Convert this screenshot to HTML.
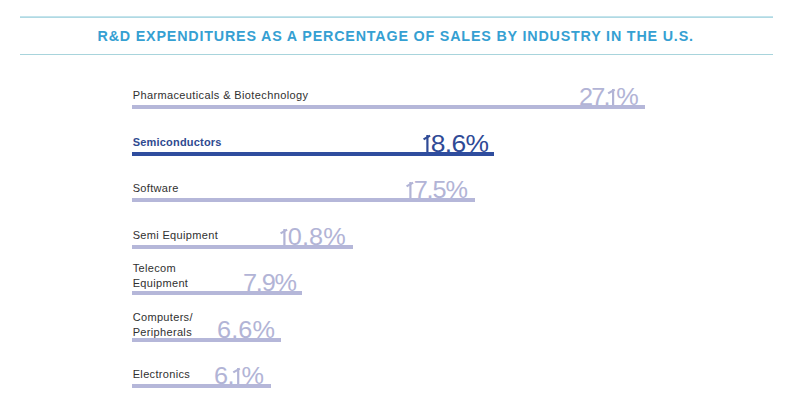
<!DOCTYPE html>
<html><head><meta charset="utf-8">
<style>
html,body{margin:0;padding:0;background:#fff;width:800px;height:408px;overflow:hidden;position:relative;font-family:"Liberation Sans",sans-serif;}
.hl{position:absolute;left:20px;width:753px;height:1px;background:#a9dcf0;}
.title{position:absolute;left:97.5px;top:28px;font-size:14.3px;font-weight:700;color:#35a0d2;letter-spacing:0.823px;white-space:nowrap;line-height:17px;}
.bar{position:absolute;left:132px;height:4px;background:#b5b7d9;}
.bar.dk{background:#2f4d9e;}
.lab{position:absolute;left:132.7px;font-size:11px;letter-spacing:0.33px;color:#303030;white-space:nowrap;line-height:15px;}
.lab.b{font-weight:700;color:#2f4a90;letter-spacing:0.2px;}
.pct{position:absolute;font-size:23px;color:#b2b4d6;white-space:nowrap;line-height:23px;transform-origin:0 19px;}
.pct.dk{color:#2f4a96;font-size:24px;line-height:24px;}
.pc{display:inline-block;transform:scaleX(1.0);transform-origin:0 0;}
.oh{position:absolute;left:0;top:0;color:transparent;font-size:1px;}
.one{display:inline-block;position:relative;width:7px;height:0.716em;margin-right:0px;}
.one:before{content:"";position:absolute;right:2px;top:0;bottom:0;width:2px;background:currentColor;}
.one:after{content:"";position:absolute;right:2px;top:0;width:6.5px;height:2px;background:currentColor;transform-origin:100% 0;transform:rotate(-32deg);}
</style></head><body>
<div class="hl" style="top:16px;height:2px;background:linear-gradient(#c4e4ec 50%,#b0d9e3 50%)"></div>
<div class="hl" style="top:54px;background:#a8d4dc"></div>
<div class="title">R&amp;D EXPENDITURES AS A PERCENTAGE OF SALES BY INDUSTRY IN THE U.S.</div>

<div class="lab" style="top:88px;letter-spacing:0.38px">Pharmaceuticals &amp; Biotechnology</div>
<div class="pct" style="left:579.40px;top:86px;letter-spacing:-1.70px;transform:scale(1.100,1.000)">27.<span class="one"><span class="oh">1</span></span><span class="pc">%</span></div>
<div class="bar" style="top:105px;width:513px"></div>

<div class="lab b" style="top:135px">Semiconductors</div>
<div class="pct dk" style="left:422.80px;top:132px;letter-spacing:-0.60px;transform:scale(1.100,1.000)"><span class="one"><span class="oh">1</span></span>8.6<span class="pc">%</span></div>
<div class="bar dk" style="top:152px;width:362px"></div>

<div class="lab" style="top:181px">Software</div>
<div class="pct" style="left:406.40px;top:179px;letter-spacing:-1.05px;transform:scale(1.100,1.000)"><span class="one"><span class="oh">1</span></span>7.5<span class="pc">%</span></div>
<div class="bar" style="top:198px;width:343px"></div>

<div class="lab" style="top:228px">Semi Equipment</div>
<div class="pct" style="left:280.20px;top:226px;letter-spacing:0.10px;transform:scale(1.100,1.000)"><span class="one"><span class="oh">1</span></span>0.8<span class="pc">%</span></div>
<div class="bar" style="top:245px;width:221px"></div>

<div class="lab" style="top:261px">Telecom<br>Equipment</div>
<div class="pct" style="left:243.00px;top:272px;letter-spacing:-1.10px;transform:scale(1.100,1.000)">7.9<span class="pc">%</span></div>
<div class="bar" style="top:291px;width:170px"></div>

<div class="lab" style="top:310px">Computers/<br>Peripherals</div>
<div class="pct" style="left:217.40px;top:319px;letter-spacing:0.07px;transform:scale(1.100,1.000)">6.6<span class="pc">%</span></div>
<div class="bar" style="top:338px;width:149px"></div>

<div class="lab" style="top:367px">Electronics</div>
<div class="pct" style="left:214.40px;top:365px;letter-spacing:-0.60px;transform:scale(1.100,1.000)">6.<span class="one"><span class="oh">1</span></span><span class="pc">%</span></div>
<div class="bar" style="top:384px;width:139px"></div>

</body></html>
